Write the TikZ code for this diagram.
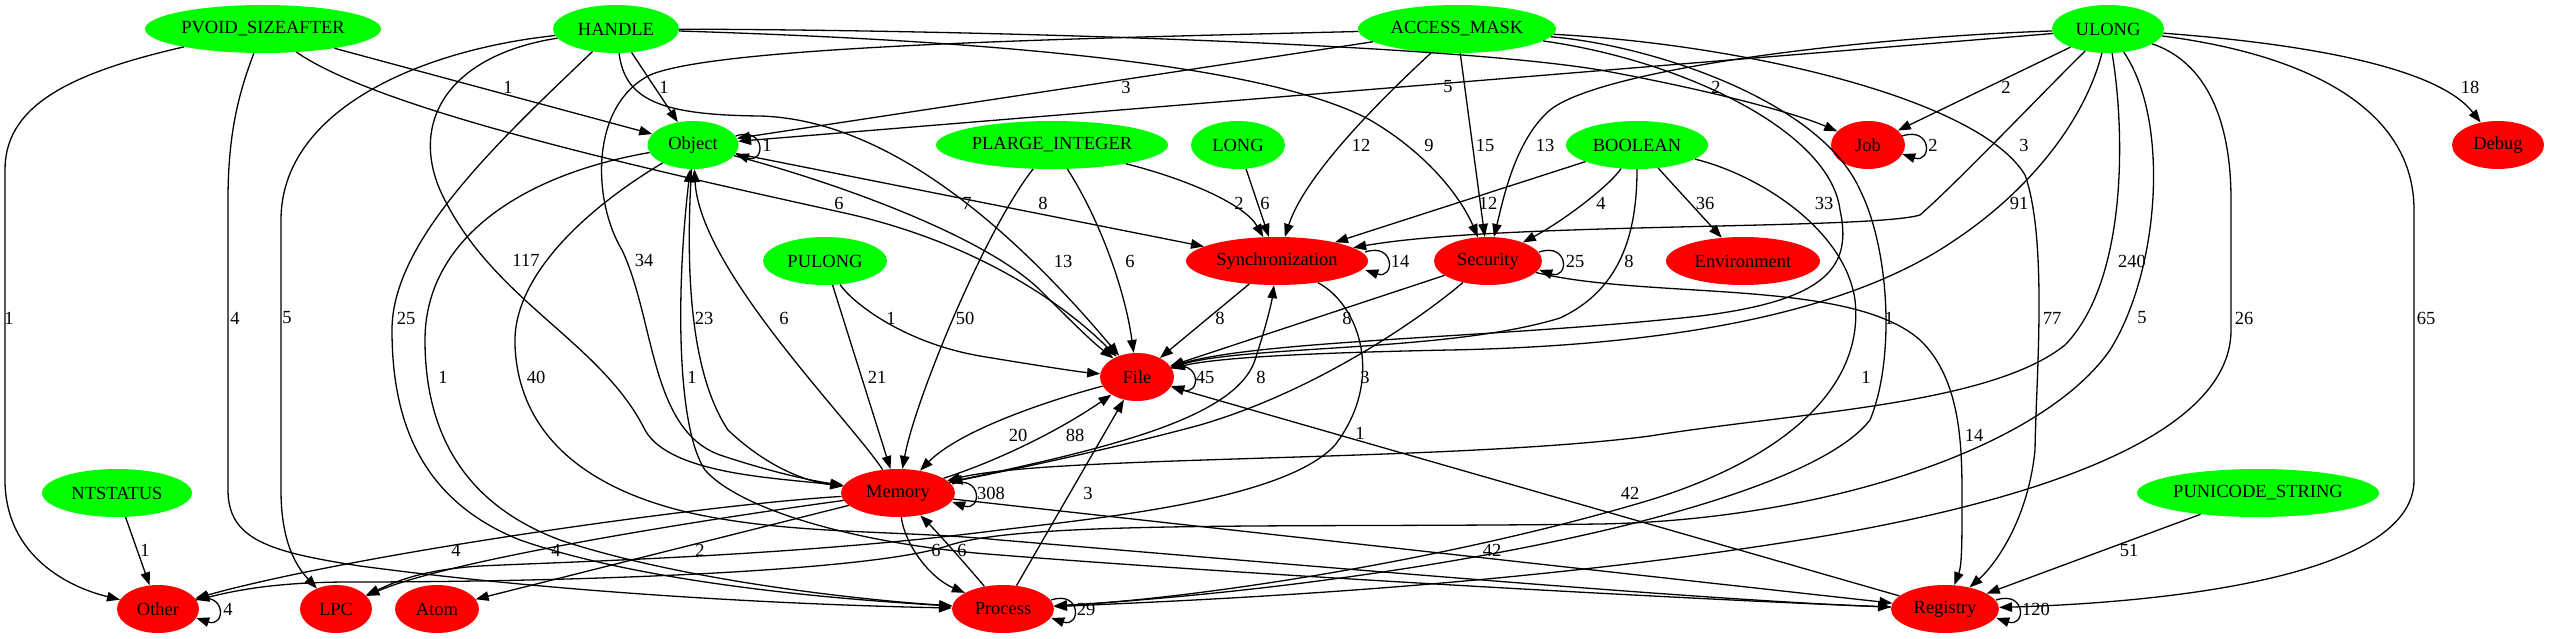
\documentclass[tikz,border=0pt]{standalone}
\usepackage{fontspec}
\setmainfont{Liberation Serif}
\usetikzlibrary{shapes.geometric,arrows.meta}
\definecolor{gvgreen}{RGB}{0,255,0}
\definecolor{gvred}{RGB}{255,0,0}
\newcommand{\zw}[1]{\makebox[0pt]{#1}}
\tikzset{
  gn/.style={ellipse, fill=gvgreen, draw=none, inner sep=0pt, minimum height=48bp, font=\fontsize{18.5bp}{20bp}\selectfont},
  rn/.style={ellipse, fill=gvred, draw=none, inner sep=0pt, minimum height=48bp, font=\fontsize{18.5bp}{20bp}\selectfont},
  lbl/.style={inner sep=0pt, font=\fontsize{18.5bp}{20bp}\selectfont},
  conn/.style={line width=1.3bp, -{Triangle[length=13bp,width=9.5bp]}}
}
\begin{document}
\begin{tikzpicture}[x=1bp,y=-1bp]
\fill[white] (0,0) rectangle (2554,639);
\useasboundingbox (0,0) rectangle (2554,639);
% nodes
\node[gn, minimum width=236bp] (pvoid) at (263,29) {\zw{PVOID\_SIZEAFTER}};
\node[gn, minimum width=126bp] (handle) at (616,29) {\zw{HANDLE}};
\node[gn, minimum width=198bp] (amask) at (1457,29) {\zw{ACCESS\_MASK}};
\node[gn, minimum width=112bp] (ulong) at (2108,29) {\zw{ULONG}};
\node[gn, minimum width=91bp] (obj) at (693,145) {\zw{Object}};
\node[gn, minimum width=232bp] (plarge) at (1052,145) {\zw{PLARGE\_INTEGER}};
\node[gn, minimum width=94bp] (long) at (1238,145) {\zw{LONG}};
\node[gn, minimum width=142bp] (bool) at (1637,145) {\zw{BOOLEAN}};
\node[rn, minimum width=74bp] (job) at (1868,145) {\zw{Job}};
\node[rn, minimum width=92bp] (debug) at (2498,145) {\zw{Debug}};
\node[gn, minimum width=124bp] (pulong) at (825,261) {\zw{PULONG}};
\node[rn, minimum width=182bp] (sync) at (1277,261) {\zw{Synchronization}};
\node[rn, minimum width=108bp] (sec) at (1488,261) {\zw{Security}};
\node[rn, minimum width=154bp] (env) at (1743,261) {\zw{Environment}};
\node[rn, minimum width=74bp] (file) at (1137,377) {\zw{File}};
\node[gn, minimum width=150bp] (ntstatus) at (117,493) {\zw{NTSTATUS}};
\node[rn, minimum width=114bp] (mem) at (898,493) {\zw{Memory}};
\node[gn, minimum width=242bp] (punicode) at (2258,493) {\zw{PUNICODE\_STRING}};
\node[rn, minimum width=82bp] (other) at (158,609) {\zw{Other}};
\node[rn, minimum width=72bp] (lpc) at (336,609) {\zw{LPC}};
\node[rn, minimum width=84bp] (atom) at (437,609) {\zw{Atom}};
\node[rn, minimum width=102bp] (proc) at (1003,609) {\zw{Process}};
\node[rn, minimum width=108bp] (reg) at (1945,609) {\zw{Registry}};
% edges from PVOID_SIZEAFTER
\draw[conn] (pvoid) -- (obj);
\draw[conn] (pvoid) .. controls (60,75) and (5,110) .. (5,170) -- (5,480) .. controls (5,550) and (60,585) .. (other);
\draw[conn] (pvoid) .. controls (240,90) and (228,130) .. (228,200) -- (228,490) .. controls (228,540) and (270,552) .. (360,566) .. controls (600,598) and (850,606) .. (proc);
\draw[conn] (pvoid) .. controls (380,110) and (650,170) .. (840,212) .. controls (970,240) and (1060,300) .. (file);
% HANDLE
\draw[conn] (handle) -- (obj);
\draw[conn] (handle) .. controls (1000,30) and (1450,45) .. (1600,70) .. controls (1720,92) and (1800,115) .. (job);
\draw[conn] (handle) .. controls (900,38) and (1250,55) .. (1370,120) .. controls (1430,155) and (1462,200) .. (sec);
\draw[conn] (handle) .. controls (625,100) and (660,115) .. (760,116) .. controls (900,120) and (1030,250) .. (file);
\draw[conn] (handle) .. controls (420,50) and (281,110) .. (281,220) -- (281,490) .. controls (281,540) and (295,565) .. (lpc);
\draw[conn] (handle) .. controls (500,140) and (392,240) .. (392,330) .. controls (392,420) and (420,500) .. (520,540) .. controls (650,585) and (850,600) .. (proc);
\draw[conn] (handle) .. controls (450,55) and (410,120) .. (440,190) .. controls (490,300) and (600,340) .. (645,430) .. controls (670,475) and (780,478) .. (mem);
% ACCESS_MASK
\draw[conn] (amask) -- (obj);
\draw[conn] (amask) .. controls (1380,100) and (1305,175) .. (sync);
\draw[conn] (amask) -- (sec);
\draw[conn] (amask) .. controls (1100,38) and (720,45) .. (650,75) .. controls (590,105) and (592,200) .. (622,250) .. controls (655,320) and (650,430) .. (720,455) .. controls (780,475) and (820,482) .. (mem);
\draw[conn] (amask) .. controls (1680,60) and (1830,130) .. (1840,210) .. controls (1852,265) and (1830,300) .. (1700,316) .. controls (1500,338) and (1260,340) .. (file);
\draw[conn] (amask) .. controls (1650,45) and (1820,100) .. (1860,190) .. controls (1890,250) and (1895,360) .. (1870,420) .. controls (1800,510) and (1400,585) .. (proc);
\draw[conn] (amask) .. controls (1750,45) and (1980,100) .. (2025,175) .. controls (2048,240) and (2036,380) .. (2035,450) .. controls (2028,520) and (1995,565) .. (reg);
% ULONG
\draw[conn] (ulong) -- (obj);
\draw[conn] (ulong) -- (job);
\draw[conn] (ulong) .. controls (2320,45) and (2440,70) .. (debug);
\draw[conn] (ulong) .. controls (1850,38) and (1600,70) .. (1550,110) .. controls (1515,140) and (1503,200) .. (sec);
\draw[conn] (ulong) .. controls (2050,85) and (1960,180) .. (1920,215) .. controls (1870,230) and (1500,222) .. (sync);
\draw[conn] (ulong) .. controls (2085,120) and (2030,190) .. (1955,240) .. controls (1860,305) and (1700,345) .. (1450,350) .. controls (1300,353) and (1215,358) .. (file);
\draw[conn] (ulong) .. controls (2125,130) and (2128,280) .. (2065,345) .. controls (1990,405) and (1800,412) .. (1650,436) .. controls (1450,462) and (1050,455) .. (mem);
\draw[conn] (ulong) .. controls (2170,120) and (2160,270) .. (2110,350) .. controls (2040,450) and (1820,520) .. (1600,524) .. controls (1300,528) and (1030,520) .. (950,545) .. controls (880,570) and (600,582) .. (350,582) .. controls (270,582) and (230,592) .. (other);
\draw[conn] (ulong) .. controls (2200,60) and (2231,110) .. (2231,200) -- (2231,330) .. controls (2231,440) and (2020,505) .. (1800,540) .. controls (1500,588) and (1200,600) .. (proc);
\draw[conn] (ulong) .. controls (2310,55) and (2414,110) .. (2414,210) -- (2414,480) .. controls (2414,580) and (2150,603) .. (reg);
% Object
\draw[conn] ([xshift=-3bp,yshift=9bp]obj.east) .. controls +(30,-10) and +(30,10) .. ([xshift=-3bp,yshift=-9bp]obj.east);
\draw[conn] (obj) -- (sync);
\draw[conn] (obj) .. controls (820,178) and (980,232) .. (1040,290) .. controls (1070,320) and (1090,340) .. (file);
\draw[conn] (obj) .. controls (686,260) and (688,370) .. (728,430) .. controls (770,470) and (810,482) .. (mem);
\draw[conn] (obj) .. controls (520,175) and (425,240) .. (425,340) .. controls (425,450) and (480,510) .. (560,540) .. controls (680,580) and (860,600) .. (proc);
\draw[conn] (obj) .. controls (600,200) and (512,270) .. (515,345) .. controls (518,430) and (580,490) .. (700,515) .. controls (800,535) and (900,530) .. (1000,540) .. controls (1300,565) and (1700,600) .. (reg);
% PLARGE_INTEGER, LONG, BOOLEAN
\draw[conn] (plarge) .. controls (1190,180) and (1245,205) .. (sync);
\draw[conn] (plarge) .. controls (1100,220) and (1125,290) .. (file);
\draw[conn] (plarge) .. controls (985,230) and (915,400) .. (mem);
\draw[conn] (long) -- (sync);
\draw[conn] (bool) -- (sync);
\draw[conn] (bool) .. controls (1610,185) and (1565,220) .. (sec);
\draw[conn] (bool) -- (env);
\draw[conn] (bool) .. controls (1637,235) and (1620,290) .. (1560,318) .. controls (1450,352) and (1250,345) .. (file);
\draw[conn] (bool) .. controls (1760,175) and (1845,230) .. (1855,300) .. controls (1865,390) and (1780,460) .. (1650,500) .. controls (1450,560) and (1200,598) .. (proc);
% Job
\draw[conn] ([xshift=-3bp,yshift=9bp]job.east) .. controls +(30,-10) and +(30,10) .. ([xshift=-3bp,yshift=-9bp]job.east);
% PULONG
\draw[conn] (pulong) .. controls (850,300) and (900,342) .. (980,356) .. controls (1040,366) and (1080,372) .. (file);
\draw[conn] (pulong) -- (mem);
% Synchronization
\draw[conn] ([xshift=-3bp,yshift=9bp]sync.east) .. controls +(30,-10) and +(30,10) .. ([xshift=-3bp,yshift=-9bp]sync.east);
\draw[conn] (sync) -- (file);
\draw[conn] (sync) .. controls (1360,305) and (1385,380) .. (1335,445) .. controls (1285,500) and (1100,518) .. (1000,530) .. controls (800,556) and (560,562) .. (480,566) .. controls (420,570) and (395,582) .. (lpc);
% Security
\draw[conn] ([xshift=-3bp,yshift=9bp]sec.east) .. controls +(30,-10) and +(30,10) .. ([xshift=-3bp,yshift=-9bp]sec.east);
\draw[conn] (sec) -- (file);
\draw[conn] (sec) .. controls (1425,315) and (1320,390) .. (1200,425) .. controls (1100,452) and (1000,472) .. (mem);
\draw[conn] (sec) .. controls (1650,300) and (1850,278) .. (1920,340) .. controls (1962,380) and (1962,450) .. (1962,500) .. controls (1962,540) and (1962,565) .. (reg);
% File
\draw[conn] ([xshift=-3bp,yshift=9bp]file.east) .. controls +(30,-10) and +(30,10) .. ([xshift=-3bp,yshift=-9bp]file.east);
\draw[conn] (file) .. controls (1050,400) and (960,430) .. (mem);
% Memory
\draw[conn] (mem) .. controls (1000,460) and (1060,430) .. (file);
\draw[conn] (mem) .. controls (1100,450) and (1235,420) .. (1255,360) .. controls (1268,320) and (1272,300) .. (sync);
\draw[conn] ([xshift=-3bp,yshift=9bp]mem.east) .. controls +(30,-10) and +(30,10) .. ([xshift=-3bp,yshift=-9bp]mem.east);
\draw[conn] (mem) .. controls (850,420) and (700,270) .. (obj);
\draw[conn] (mem) .. controls (700,505) and (350,555) .. (other);
\draw[conn] (mem) .. controls (700,520) and (450,560) .. (lpc);
\draw[conn] (mem) -- (atom);
\draw[conn] (mem) .. controls (905,545) and (930,578) .. (proc);
\draw[conn] (mem) -- (reg);
% Process
\draw[conn] (proc) .. controls (975,575) and (940,535) .. (mem);
\draw[conn] (proc) -- (file);
\draw[conn] ([xshift=-3bp,yshift=9bp]proc.east) .. controls +(30,-10) and +(30,10) .. ([xshift=-3bp,yshift=-9bp]proc.east);
% Registry
\draw[conn] (reg) -- (file);
\draw[conn] ([xshift=-3bp,yshift=9bp]reg.east) .. controls +(30,-10) and +(30,10) .. ([xshift=-3bp,yshift=-9bp]reg.east);
\draw[conn] (reg) .. controls (1700,600) and (1250,575) .. (1000,555) .. controls (860,545) and (740,510) .. (705,470) .. controls (678,430) and (675,300) .. (obj);
% NTSTATUS, PUNICODE_STRING, Other
\draw[conn] (ntstatus) -- (other);
\draw[conn] (punicode) -- (reg);
\draw[conn] ([xshift=-3bp,yshift=9bp]other.east) .. controls +(30,-10) and +(30,10) .. ([xshift=-3bp,yshift=-9bp]other.east);
% labels
\node[lbl] (l01) at (508,87) {1};
\node[lbl] (l02) at (9,318) {1};
\node[lbl] (l03) at (235,318) {4};
\node[lbl] (l04) at (839,203) {6};
\node[lbl] (l05) at (664,87) {1};
\node[lbl] (l06) at (1716,87) {2};
\node[lbl] (l07) at (1429,145) {9};
\node[lbl] (l08) at (967,203) {7};
\node[lbl] (l09) at (287,318) {5};
\node[lbl] (l10) at (406,318) {25};
\node[lbl] (l11) at (526,260) {117};
\node[lbl] (l12) at (1126,87) {3};
\node[lbl] (l13) at (1361,145) {12};
\node[lbl] (l14) at (1485,145) {15};
\node[lbl] (l15) at (644,260) {34};
\node[lbl] (l16) at (1824,203) {33};
\node[lbl] (l17) at (1889,318) {1};
\node[lbl] (l18) at (2052,318) {77};
\node[lbl] (l19) at (1448,87) {5};
\node[lbl] (l20) at (2006,87) {2};
\node[lbl] (l21) at (2470,87) {18};
\node[lbl] (l22) at (1545,145) {13};
\node[lbl] (l23) at (2024,145) {3};
\node[lbl] (l24) at (2019,203) {91};
\node[lbl] (l25) at (2132,261) {240};
\node[lbl] (l26) at (2142,318) {5};
\node[lbl] (l27) at (2244,318) {26};
\node[lbl] (l28) at (2426,318) {65};
\node[lbl] (l29) at (767,145) {1};
\node[lbl] (l30) at (1043,203) {8};
\node[lbl] (l31) at (1063,261) {13};
\node[lbl] (l32) at (704,318) {23};
\node[lbl] (l33) at (443,377) {1};
\node[lbl] (l34) at (536,377) {40};
\node[lbl] (l35) at (1239,203) {2};
\node[lbl] (l36) at (1130,261) {6};
\node[lbl] (l37) at (965,318) {50};
\node[lbl] (l38) at (1265,203) {6};
\node[lbl] (l39) at (1488,203) {12};
\node[lbl] (l40) at (1601,203) {4};
\node[lbl] (l41) at (1705,203) {36};
\node[lbl] (l42) at (1629,261) {8};
\node[lbl] (l43) at (1866,377) {1};
\node[lbl] (l44) at (1933,145) {2};
\node[lbl] (l45) at (891,318) {1};
\node[lbl] (l46) at (877,377) {21};
\node[lbl] (l47) at (1400,261) {14};
\node[lbl] (l48) at (1220,318) {8};
\node[lbl] (l49) at (1360,433) {1};
\node[lbl] (l50) at (1575,261) {25};
\node[lbl] (l51) at (1347,318) {8};
\node[lbl] (l52) at (1365,377) {3};
\node[lbl] (l53) at (1974,435) {14};
\node[lbl] (l54) at (1205,377) {45};
\node[lbl] (l55) at (1018,435) {20};
\node[lbl] (l56) at (1075,435) {88};
\node[lbl] (l57) at (1261,377) {8};
\node[lbl] (l58) at (991,493) {308};
\node[lbl] (l59) at (784,318) {6};
\node[lbl] (l60) at (456,550) {4};
\node[lbl] (l61) at (556,550) {4};
\node[lbl] (l62) at (700,550) {2};
\node[lbl] (l63) at (936,550) {6};
\node[lbl] (l64) at (1492,550) {42};
\node[lbl] (l65) at (962,550) {6};
\node[lbl] (l66) at (1088,493) {3};
\node[lbl] (l67) at (1086,609) {29};
\node[lbl] (l68) at (1630,493) {42};
\node[lbl] (l69) at (2036,609) {120};
\node[lbl] (l70) at (692,377) {1};
\node[lbl] (l71) at (145,550) {1};
\node[lbl] (l72) at (2129,550) {51};
\node[lbl] (l73) at (228,609) {4};
\end{tikzpicture}
\end{document}
